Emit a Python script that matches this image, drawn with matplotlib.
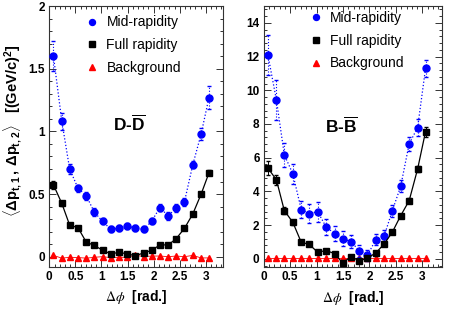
import numpy as np
import matplotlib
matplotlib.use("Agg")
import matplotlib.pyplot as plt
from matplotlib.ticker import MultipleLocator, AutoMinorLocator
from matplotlib.lines import Line2D

# ---------------- data ----------------
dphi = [0.08, 0.24, 0.39, 0.55, 0.71, 0.86, 1.02, 1.18, 1.34, 1.49,
        1.65, 1.81, 1.96, 2.12, 2.28, 2.43, 2.59, 2.75, 2.91, 3.06]

# D-Dbar
dd_mid = [1.60, 1.08, 0.70, 0.546, 0.486, 0.357, 0.282, 0.218, 0.228, 0.244,
          0.228, 0.218, 0.282, 0.392, 0.325, 0.39, 0.438, 0.734, 0.98, 1.27]
dd_mid_err = [0.12, 0.07, 0.04, 0.03, 0.03, 0.03, 0.025, 0.025, 0.025, 0.025,
              0.025, 0.025, 0.025, 0.03, 0.03, 0.03, 0.03, 0.03, 0.05, 0.09]
dd_full = [0.573, 0.425, 0.252, 0.231, 0.115, 0.091, 0.051, 0.022, 0.035, 0.022,
           0.008, 0.03, 0.05, 0.094, 0.094, 0.143, 0.226, 0.341, 0.50, 0.669]
dd_full_err = [0.03, 0.02, 0.01, 0.01, 0.008, 0.008, 0.006, 0.006, 0.006, 0.006,
               0.006, 0.006, 0.006, 0.006, 0.006, 0.008, 0.008, 0.01, 0.01, 0.02]
dd_bkg = [0.01, -0.012, -0.005, -0.007, -0.012, -0.005, 0.0, -0.008, -0.005, -0.005,
          0.012, 0.0, 0.005, 0.005, 0.0, 0.005, 0.0, 0.01, -0.01, -0.01]

# B-Bbar
bb_mid = [12.09, 9.43, 6.17, 5.05, 2.92, 2.68, 2.80, 1.89, 1.50, 1.20,
          1.02, 0.47, 0.20, 1.14, 1.38, 2.84, 4.30, 6.82, 7.79, 11.30]
bb_mid_err = [1.2, 1.2, 0.7, 0.6, 0.5, 0.55, 0.6, 0.45, 0.45, 0.45,
              0.4, 0.35, 0.35, 0.35, 0.35, 0.35, 0.35, 0.4, 0.5, 0.5]
bb_full = [5.38, 4.69, 2.86, 2.17, 0.98, 0.86, 0.39, 0.49, 0.31, -0.24,
           0.12, -0.12, 0.04, 0.35, 0.89, 1.57, 2.56, 3.45, 5.33, 7.55]
bb_full_err = [0.4, 0.3, 0.2, 0.15, 0.1, 0.1, 0.1, 0.1, 0.1, 0.1,
               0.1, 0.1, 0.1, 0.1, 0.1, 0.1, 0.1, 0.15, 0.2, 0.3]
bb_bkg = [0.02, 0.02, 0.02, 0.02, 0.02, 0.02, 0.02, 0.02, 0.02, 0.02,
          0.02, 0.02, 0.02, 0.02, 0.02, 0.02, 0.02, 0.02, 0.02, 0.02]

labels = ["Mid-rapidity", "Full rapidity", "Background"]

# ---------------- style ----------------
plt.rcParams['font.family'] = ['Liberation Sans', 'DejaVu Sans']
plt.rcParams['mathtext.fontset'] = 'custom'
plt.rcParams['mathtext.rm'] = 'Liberation Sans:bold'
plt.rcParams['mathtext.it'] = 'Liberation Sans:bold'
plt.rcParams['mathtext.bf'] = 'Liberation Sans:bold'
plt.rcParams['mathtext.sf'] = 'Liberation Sans:bold'

BLUE = '#0000ff'
RED = '#ff0000'

fig = plt.figure(figsize=(4.49, 3.17), dpi=100)
axL = fig.add_axes([0.1098, 0.1587, 0.387, 0.822])
axR = fig.add_axes([0.5873, 0.157, 0.397, 0.824])


def draw(ax, mid, mid_err, full, full_err, bkg):
    e1 = ax.errorbar(dphi, mid, yerr=mid_err, fmt='o', color=BLUE, ms=5,
                     ls=':', lw=0.9, elinewidth=0.8, capsize=1.5, zorder=3)
    for bl in e1[2]:
        bl.set_linestyle(':')
    ax.errorbar(dphi, full, yerr=full_err, fmt='s', color='black', ms=4.7,
                ls='-', lw=0.9, elinewidth=0.7, capsize=1.2, zorder=3)
    ax.plot(dphi, bkg, marker='^', color=RED, ms=4.3, ls='-', lw=0.6,
            zorder=2)


def fmt_num(v, pos):
    return f"{v:g}"


def style(ax, ymaj, yminor_n):
    ax.xaxis.set_major_locator(MultipleLocator(0.5))
    ax.xaxis.set_minor_locator(MultipleLocator(0.1))
    ax.yaxis.set_major_locator(MultipleLocator(ymaj))
    ax.yaxis.set_minor_locator(AutoMinorLocator(yminor_n))
    ax.xaxis.set_major_formatter(plt.FuncFormatter(fmt_num))
    ax.yaxis.set_major_formatter(plt.FuncFormatter(fmt_num))
    ax.tick_params(which='both', direction='in', top=True, right=True,
                   width=0.7, colors='#333333', labelcolor='black')
    ax.tick_params(which='major', length=5, labelsize=8.5, pad=3)
    ax.tick_params(which='minor', length=2.5)
    for s in ax.spines.values():
        s.set_linewidth(0.8)
        s.set_color('#333333')
    ax.set_xlabel(r"$\Delta\phi$  [rad.]", fontsize=10, fontweight='bold',
                  math_fontfamily='stix', labelpad=4)


def legend(ax, anchor):
    handles = [
        Line2D([], [], marker='o', color=BLUE, ls='none', ms=4.3),
        Line2D([], [], marker='s', color='black', ls='none', ms=4.0),
        Line2D([], [], marker='^', color=RED, ls='none', ms=4.0),
    ]
    ax.legend(handles, labels, loc='upper left', bbox_to_anchor=anchor,
              frameon=False, fontsize=10, handlelength=1.0, handletextpad=0.55,
              labelspacing=0.62, borderpad=0, borderaxespad=0, numpoints=1)


draw(axL, dd_mid, dd_mid_err, dd_full, dd_full_err, dd_bkg)
axL.set_xlim(0, 3.33)
axL.set_ylim(-0.08, 2.0)
style(axL, 0.5, 5)
axL.set_ylabel(r"$\langle\Delta p_{t,1}\,,\,\Delta p_{t,2}\rangle$   [(GeV/c)$^{2}$]",
               fontsize=10.5, fontweight='bold')
axL.yaxis.set_label_coords(-0.145, 0.52)
axL.text(1.53, 1.06, r"$\mathrm{D}$-$\overline{\mathrm{D}}$", fontsize=12.5,
         fontweight='bold', ha='center', va='center')
legend(axL, (0.205, 0.964))

draw(axR, bb_mid, bb_mid_err, bb_full, bb_full_err, bb_bkg)
axR.set_xlim(0, 3.37)
axR.set_ylim(-0.5, 15)
style(axR, 2, 5)
axR.text(1.47, 7.9, r"$\mathrm{B}$-$\overline{\mathrm{B}}$", fontsize=12.5,
         fontweight='bold', ha='center', va='center')
legend(axR, (0.252, 0.980))

for ax in (axL, axR):
    for lab in ax.get_xticklabels() + ax.get_yticklabels():
        lab.set_fontweight('bold')

fig.savefig("out.png", dpi=100)
